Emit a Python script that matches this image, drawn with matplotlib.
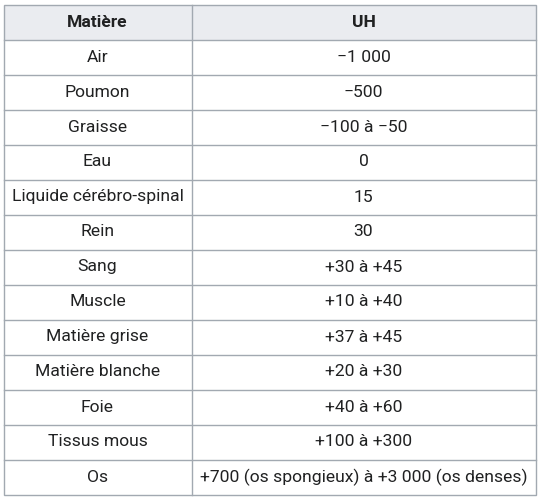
import matplotlib.pyplot as plt
from matplotlib.patches import Rectangle

headers = ["Matière", "UH"]
materials = ["Air", "Poumon", "Graisse", "Eau", "Liquide cérébro-spinal", "Rein",
             "Sang", "Muscle", "Matière grise", "Matière blanche", "Foie",
             "Tissus mous", "Os"]
uh_values = ["\u22121 000", "\u2212500", "\u2212100 à \u221250", "0", "15", "30",
             "+30 à +45", "+10 à +40", "+37 à +45", "+20 à +30", "+40 à +60",
             "+100 à +300", "+700 (os spongieux) à +3 000 (os denses)"]

W, H = 539, 499
fig = plt.figure(figsize=(W / 100, H / 100), dpi=100)
ax = fig.add_axes([0, 0, 1, 1])
ax.set_xlim(0, W)
ax.set_ylim(H, 0)
ax.axis('off')

left, mid, right = 3.5, 191.5, 535.5
top, row_h = 4.5, 35
n_rows = len(materials) + 1
border = '#a2a9b1'
txt = '#202122'
font = 'Roboto'
fs = 12.6

ax.add_patch(Rectangle((left, top), right - left, row_h, facecolor='#eaecf0', edgecolor='none'))
ax.add_patch(Rectangle((left, top), right - left, row_h * n_rows, facecolor='none',
                       edgecolor=border, lw=1))
for i in range(1, n_rows):
    y = top + i * row_h
    ax.plot([left, right], [y, y], color=border, lw=1)
ax.plot([mid, mid], [top, top + n_rows * row_h], color=border, lw=1)

cx1, cx2 = (left + mid) / 2, (mid + right) / 2
yc = top + row_h / 2
ax.text(cx1, yc, headers[0], ha='center', va='center', fontsize=fs, fontweight='bold', color=txt, family=font)
ax.text(cx2, yc, headers[1], ha='center', va='center', fontsize=fs, fontweight='bold', color=txt, family=font)
for i, (m, v) in enumerate(zip(materials, uh_values), start=1):
    yc = top + i * row_h + row_h / 2
    ax.text(cx1, yc, m, ha='center', va='center', fontsize=fs, color=txt, family=font)
    ax.text(cx2, yc, v, ha='center', va='center', fontsize=fs, color=txt, family=font)

fig.savefig('out.png', dpi=100, facecolor='white')
